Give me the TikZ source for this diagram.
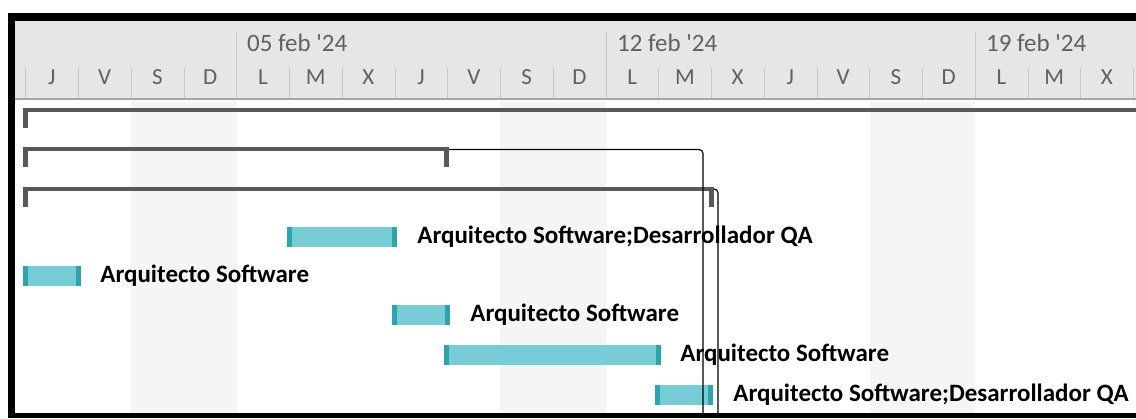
\documentclass[tikz,border=0pt]{standalone}
\usepackage{fontspec}
\setmainfont{Carlito}
\usetikzlibrary{positioning}
\definecolor{hdrgray}{HTML}{E6E6E6}
\definecolor{wkgray}{HTML}{F5F5F5}
\definecolor{tickgray}{HTML}{C8C8C8}
\definecolor{hdrtext}{HTML}{606060}
\definecolor{summgray}{HTML}{595959}
\definecolor{barfill}{HTML}{76CDD6}
\definecolor{barend}{HTML}{2BA5AE}

\begin{document}
\begin{tikzpicture}[x=1pt,y=-1pt,
    day/.style={text=hdrtext, font=\fontsize{23}{26}\selectfont, inner sep=0pt},
    week/.style={text=hdrtext, font=\fontsize{25}{29}\selectfont, inner sep=0pt, anchor=west},
    task/.style={fill=barfill, minimum height=20pt, inner sep=0pt,
        path picture={
            \fill[barend] (path picture bounding box.south west) rectangle ([xshift=5pt]path picture bounding box.north west);
            \fill[barend] (path picture bounding box.south east) rectangle ([xshift=-5pt]path picture bounding box.north east);
        }},
    who/.style={font=\bfseries\fontsize{25}{29}\selectfont, inner sep=0pt},
    summ/.style={fill=summgray},
    link/.style={draw=black, line width=1.2pt, rounded corners=4pt}
    ]
    \useasboundingbox (0,0) rectangle (1136,418);
    \fill[white] (0,0) rectangle (1136,418);
    % header and weekends
    \fill[hdrgray] (15,21) rectangle (1136,98);
    \draw[gray!70, line width=1.5pt] (15,99) -- (1136,99);
    \foreach \k in {2,9,16}
        \fill[wkgray] (25.5+52.75*\k,100.5) rectangle (25.5+52.75*\k+105.5,413);
    \foreach \k in {0,...,21}
        \draw[tickgray] (25.5+52.75*\k,68) -- (25.5+52.75*\k,98);
    \foreach \k in {4,11,18}
        \draw[tickgray] (25.5+52.75*\k,32) -- (25.5+52.75*\k,68);
    \foreach \d [count=\k from 0] in {J,V,S,D,L,M,X,J,V,S,D,L,M,X,J,V,S,D,L,M,X}
        \node[day] (d\k) at (25.5+52.75*\k+26.4,77) {\d};
    \node[week] (w1) at (247,43) {05 feb \textquotesingle 24};
    \node[week] (w2) at (617,43) {12 feb \textquotesingle 24};
    \node[week] (w3) at (986,43) {19 feb \textquotesingle 24};

    % summary rows
    \fill[summ] (23,108) rectangle (1136,112);
    \fill[summ] (23,108) rectangle (28,128);
    \fill[summ] (23,147) rectangle (449,151);
    \fill[summ] (23,147) rectangle (28,167);
    \fill[summ] (444,147) rectangle (449,167);
    \fill[summ] (23,187) rectangle (714,191);
    \fill[summ] (23,187) rectangle (28,207);
    \fill[summ] (709,187) rectangle (714,207);
    \coordinate (s2) at (449,149.5);
    \coordinate (s3) at (714,189);

    % tasks
    \node[task, minimum width=110pt] (t1) at (342,237) {};
    \node[task, minimum width=58pt] (t2) at (52,276) {};
    \node[task, minimum width=58pt] (t3) at (421,315) {};
    \node[task, minimum width=217pt] (t4) at (552.5,355) {};
    \node[task, minimum width=58pt] (t5) at (684,395) {};
    \node[who, right=20pt of t1] (l1) {Arquitecto Software;Desarrollador QA};
    \node[who, right=19pt of t2] (l2) {Arquitecto Software};
    \node[who, right=20pt of t3] (l3) {Arquitecto Software};
    \node[who, right=19pt of t4] (l4) {Arquitecto Software};
    \node[who, right=20pt of t5] (l5) {Arquitecto Software;Desarrollador QA};

    % links
    \coordinate (e2) at (703,418);
    \coordinate (e3) at (718,418);
    \draw[link] (s2) -| (e2);
    \draw[link] (s3) -| (e3);

    % frame
    \fill[black] (8,13) rectangle (1136,21);
    \fill[black] (8,13) rectangle (15,418);
    \fill[black] (8,413) rectangle (1136,418);
\end{tikzpicture}
\end{document}
